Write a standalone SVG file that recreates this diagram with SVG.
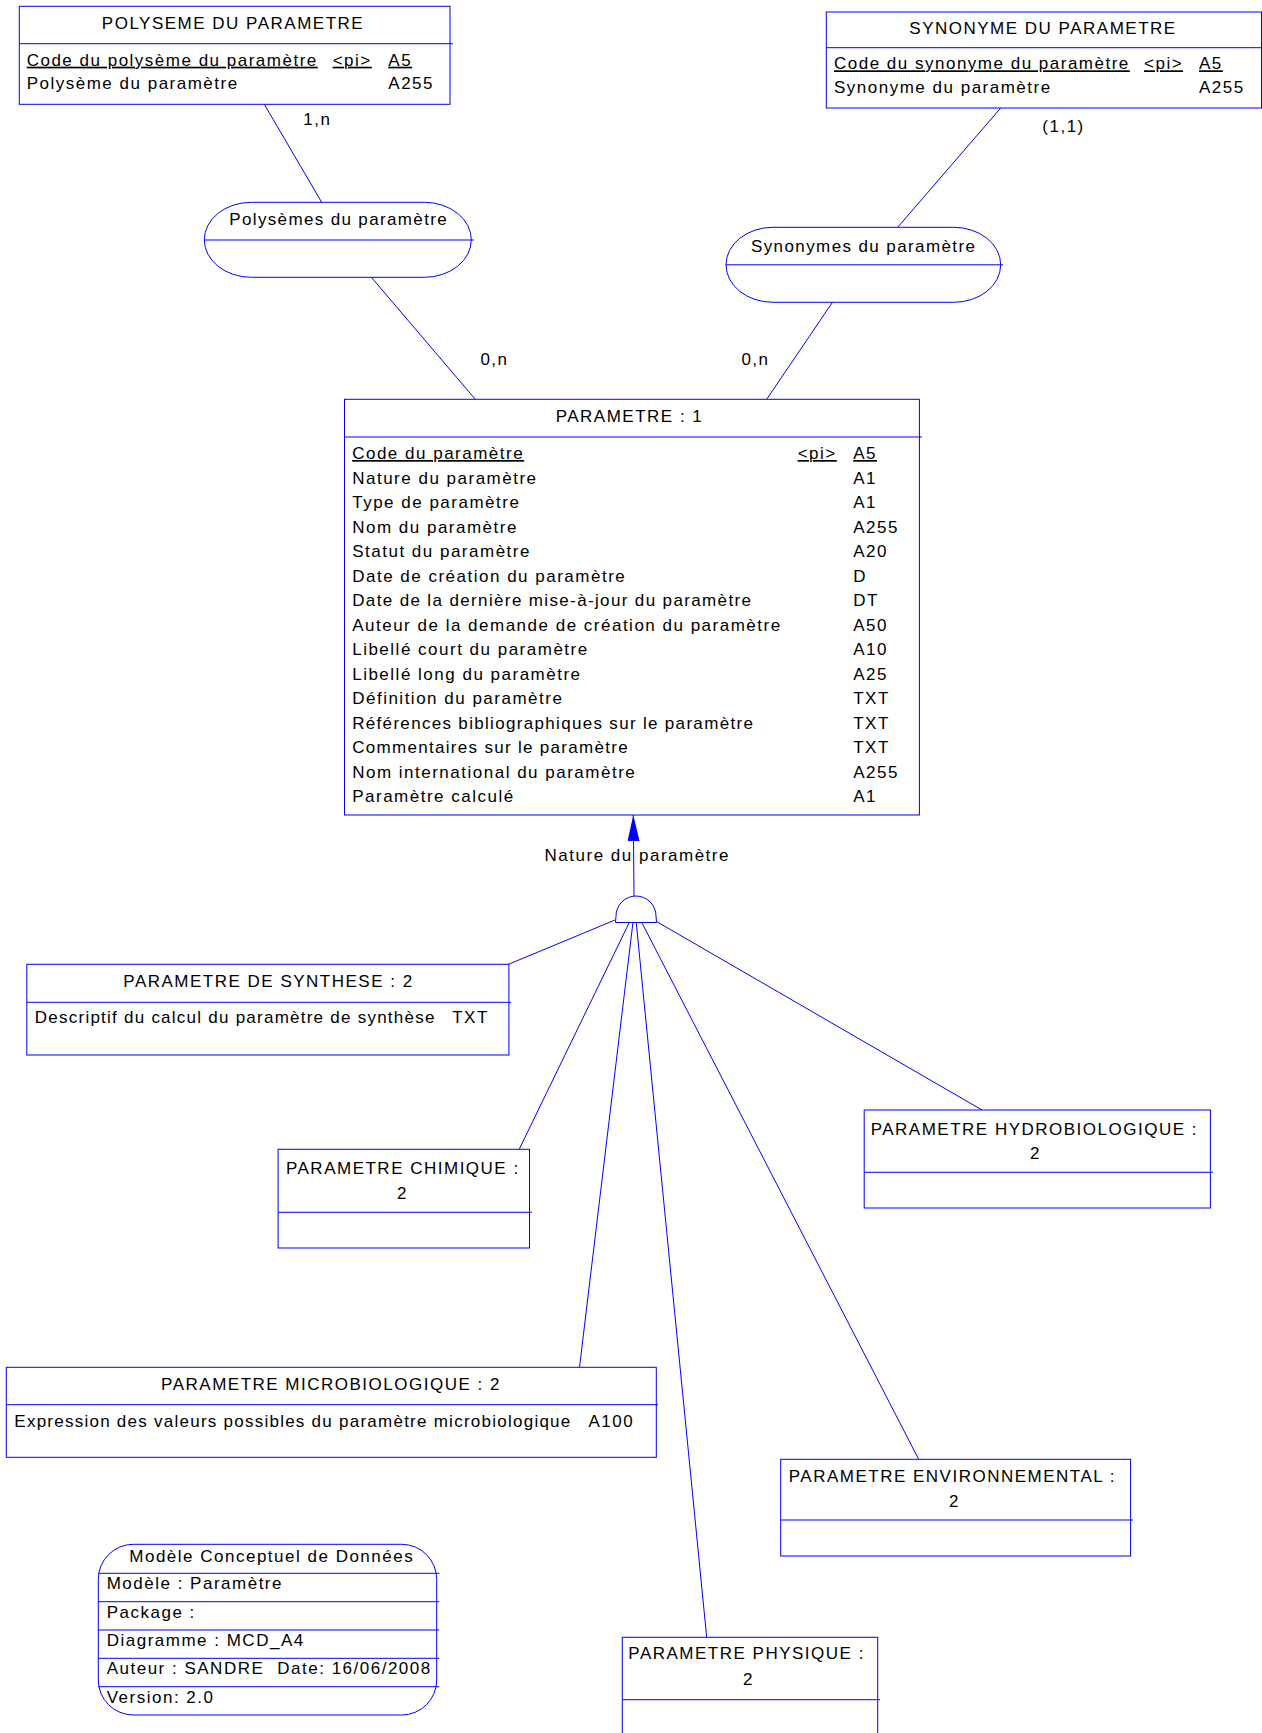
<svg xmlns="http://www.w3.org/2000/svg" width="1262" height="1733" viewBox="0 0 1262 1733">
<style>
.box{fill:#fff;stroke:#0000ff;stroke-width:1}
.ln{stroke:#0000ff;stroke-width:1;fill:none}
text{font-family:"Liberation Sans",Arial,sans-serif;font-size:17px;letter-spacing:1.5px;fill:#000}
.c{text-anchor:middle}
.u{text-decoration:underline}
.t{letter-spacing:0}
</style>
<defs>
<marker id="arr" markerUnits="userSpaceOnUse" viewBox="0 0 26 12" refX="26" refY="6" markerWidth="26" markerHeight="12" orient="auto">
<path d="M0,0 L26,6 L0,12 Z" fill="#0000ff"/>
</marker>
</defs>
<rect x="0" y="0" width="1262" height="1733" fill="#fff"/>

<g id="connectors">
<line class="ln" x1="264.3" y1="104.3" x2="321.7" y2="202.3"/>
<line class="ln" x1="371.5" y1="277.5" x2="475.3" y2="399.3"/>
<line class="ln" x1="1000.7" y1="108" x2="897.7" y2="227.3"/>
<line class="ln" x1="832.3" y1="302.5" x2="766.7" y2="399.3"/>
<line class="ln" x1="634" y1="896" x2="633.3" y2="815" marker-end="url(#arr)"/>
<line class="ln" x1="615" y1="920" x2="508.5" y2="964.3"/>
<line class="ln" x1="629.5" y1="922" x2="519.2" y2="1149.3"/>
<line class="ln" x1="633" y1="922" x2="579.5" y2="1367.3"/>
<line class="ln" x1="636.2" y1="922" x2="706.7" y2="1637.3"/>
<line class="ln" x1="641.5" y1="922" x2="918.7" y2="1459.3"/>
<line class="ln" x1="656.5" y1="921.5" x2="982" y2="1110"/>
<text x="303.3" y="125">1,n</text>
<text x="1042.3" y="131.7">(1,1)</text>
<text x="480.4" y="365">0,n</text>
<text x="741.4" y="365">0,n</text>
<text x="544.6" y="860.7">Nature du paramètre</text>
</g>

<g id="polyseme">
<rect class="box" x="19.3" y="6.3" width="430.7" height="98"/>
<line class="ln" x1="19.3" y1="43.7" x2="453" y2="43.7"/>
<text class="c" x="233" y="29.3">POLYSEME DU PARAMETRE</text>
<text class="u" x="26.7" y="65.7">Code du polysème du paramètre</text>
<text class="u" x="332.7" y="65.7">&lt;pi&gt;</text>
<text class="u" x="388.3" y="65.7">A5</text>
<text x="26.7" y="89.3">Polysème du paramètre</text>
<text x="388.3" y="89.3">A255</text>
</g>

<g id="synonyme">
<rect class="box" x="826.3" y="12" width="435.2" height="96"/>
<line class="ln" x1="826.3" y1="47.7" x2="1262" y2="47.7"/>
<text class="c" x="1043" y="34.3">SYNONYME DU PARAMETRE</text>
<text class="u" x="834" y="69.3">Code du synonyme du paramètre</text>
<text class="u" x="1144" y="69.3">&lt;pi&gt;</text>
<text class="u" x="1199" y="69.3">A5</text>
<text x="834" y="93.3">Synonyme du paramètre</text>
<text x="1199" y="93.3">A255</text>
</g>

<g id="assoc-polysemes">
<rect class="box" x="204.3" y="202.3" width="267" height="75" rx="47" ry="37.5"/>
<line class="ln" x1="204.3" y1="240" x2="474" y2="240"/>
<text class="t" x="229.3" y="225" textLength="217.4" lengthAdjust="spacing">Polysèmes du paramètre</text>
</g>

<g id="assoc-synonymes">
<rect class="box" x="726" y="227.3" width="274.7" height="75" rx="47" ry="37.5"/>
<line class="ln" x1="726" y1="264.8" x2="1003" y2="264.8"/>
<text class="t" x="751" y="252.3" textLength="224" lengthAdjust="spacing">Synonymes du paramètre</text>
</g>

<g id="parametre">
<rect class="box" x="344.5" y="399.3" width="574.9" height="415.7"/>
<line class="ln" x1="344.5" y1="437" x2="922" y2="437"/>
<text class="c" x="629.5" y="422.3">PARAMETRE : 1</text>
<text class="u" x="352.2" y="459">Code du paramètre</text>
<text class="u" x="797.7" y="459">&lt;pi&gt;</text>
<text class="u" x="853.2" y="459">A5</text>
<text x="352.2" y="483.5">Nature du paramètre</text><text x="853.2" y="483.5">A1</text>
<text x="352.2" y="508">Type de paramètre</text><text x="853.2" y="508">A1</text>
<text x="352.2" y="532.5">Nom du paramètre</text><text x="853.2" y="532.5">A255</text>
<text x="352.2" y="557">Statut du paramètre</text><text x="853.2" y="557">A20</text>
<text x="352.2" y="581.5">Date de création du paramètre</text><text x="853.2" y="581.5">D</text>
<text class="t" x="352.2" y="606" textLength="398.8" lengthAdjust="spacing">Date de la dernière mise-à-jour du paramètre</text><text x="853.2" y="606">DT</text>
<text x="352.2" y="630.5">Auteur de la demande de création du paramètre</text><text x="853.2" y="630.5">A50</text>
<text x="352.2" y="655">Libellé court du paramètre</text><text x="853.2" y="655">A10</text>
<text x="352.2" y="679.5">Libellé long du paramètre</text><text x="853.2" y="679.5">A25</text>
<text x="352.2" y="704">Définition du paramètre</text><text x="853.2" y="704">TXT</text>
<text class="t" x="352.2" y="728.5" textLength="400.7" lengthAdjust="spacing">Références bibliographiques sur le paramètre</text><text x="853.2" y="728.5">TXT</text>
<text class="t" x="352.2" y="753" textLength="275.5" lengthAdjust="spacing">Commentaires sur le paramètre</text><text x="853.2" y="753">TXT</text>
<text x="352.2" y="777.5">Nom international du paramètre</text><text x="853.2" y="777.5">A255</text>
<text x="352.2" y="802">Paramètre calculé</text><text x="853.2" y="802">A1</text>
</g>

<g id="inheritance">
<path class="box" d="M615.5,922.5 L616,916 A20,20 0 0 1 656,916 L656.5,922.5 Z"/>
</g>

<g id="synthese">
<rect class="box" x="26.8" y="964.3" width="482.1" height="90.7"/>
<line class="ln" x1="26.8" y1="1002.3" x2="511" y2="1002.3"/>
<text class="c" x="268.5" y="987.3">PARAMETRE DE SYNTHESE : 2</text>
<text class="t" x="34.8" y="1022.7" textLength="399.6" lengthAdjust="spacing">Descriptif du calcul du paramètre de synthèse</text>
<text x="452.2" y="1022.7">TXT</text>
</g>

<g id="chimique">
<rect class="box" x="278.1" y="1149.3" width="251.4" height="98.7"/>
<line class="ln" x1="278.1" y1="1212.3" x2="532" y2="1212.3"/>
<text class="c" x="402.8" y="1174">PARAMETRE CHIMIQUE :</text>
<text class="c" x="402.5" y="1199.3">2</text>
</g>

<g id="hydrobiologique">
<rect class="box" x="864.2" y="1110" width="346.2" height="98"/>
<line class="ln" x1="864.2" y1="1172.3" x2="1213" y2="1172.3"/>
<text class="c" x="1034.3" y="1135">PARAMETRE HYDROBIOLOGIQUE :</text>
<text class="c" x="1035.5" y="1159">2</text>
</g>

<g id="microbiologique">
<rect class="box" x="6.3" y="1367.3" width="650" height="90"/>
<line class="ln" x1="6.3" y1="1404.7" x2="658" y2="1404.7"/>
<text class="c" x="331" y="1390">PARAMETRE MICROBIOLOGIQUE : 2</text>
<text class="t" x="14.3" y="1426.7" textLength="556" lengthAdjust="spacing">Expression des valeurs possibles du paramètre microbiologique</text>
<text x="588.4" y="1426.7">A100</text>
</g>

<g id="environnemental">
<rect class="box" x="780.7" y="1459.3" width="349.9" height="96.7"/>
<line class="ln" x1="780.7" y1="1520" x2="1133" y2="1520"/>
<text class="c" x="952.4" y="1481.7">PARAMETRE ENVIRONNEMENTAL :</text>
<text class="c" x="954.4" y="1506.7">2</text>
</g>

<g id="physique">
<rect class="box" x="622.3" y="1637.3" width="255.4" height="110"/>
<line class="ln" x1="622.3" y1="1699.7" x2="880" y2="1699.7"/>
<text class="c" x="746.6" y="1659.3">PARAMETRE PHYSIQUE :</text>
<text class="c" x="748.4" y="1685">2</text>
</g>

<g id="model-info">
<rect class="box" x="98.3" y="1544.3" width="338.4" height="170.7" rx="35" ry="35"/>
<line class="ln" x1="98.3" y1="1573.3" x2="439.3" y2="1573.3"/>
<line class="ln" x1="98.3" y1="1601.7" x2="439.3" y2="1601.7"/>
<line class="ln" x1="98.3" y1="1630" x2="439.3" y2="1630"/>
<line class="ln" x1="98.3" y1="1658.3" x2="439.3" y2="1658.3"/>
<line class="ln" x1="98.3" y1="1686.7" x2="439.3" y2="1686.7"/>
<text x="129.3" y="1561.7">Modèle Conceptuel de Données</text>
<text x="106.7" y="1589.3">Modèle : Paramètre</text>
<text x="106.7" y="1617.7">Package :</text>
<text x="106.7" y="1646">Diagramme : MCD_A4</text>
<text x="106.7" y="1674.3">Auteur : SANDRE</text>
<text x="277.3" y="1674.3">Date: 16/06/2008</text>
<text x="106.7" y="1702.7">Version: 2.0</text>
</g>
</svg>
